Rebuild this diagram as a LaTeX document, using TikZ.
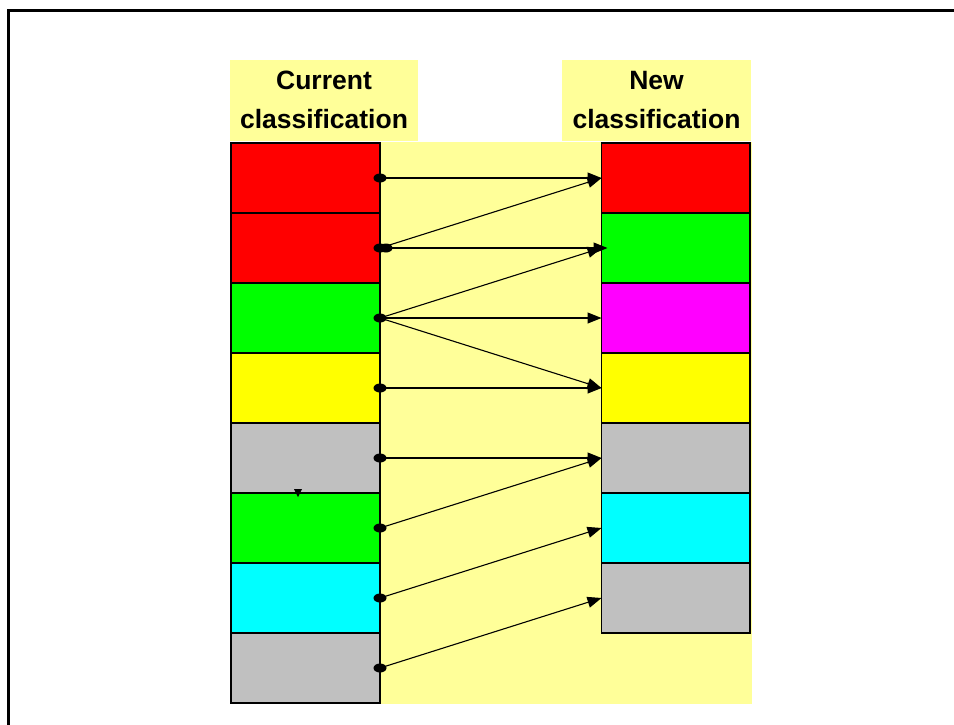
\documentclass[tikz,border=0pt]{standalone}
\usepackage{fontspec}
\setmainfont{Liberation Sans}
\usetikzlibrary{arrows.meta}
\definecolor{lyellow}{HTML}{FFFF99}
\definecolor{cgray}{HTML}{C0C0C0}
\definecolor{cred}{HTML}{FF0000}
\definecolor{cgreen}{HTML}{00FF00}
\definecolor{cmag}{HTML}{FF00FF}
\definecolor{cyel}{HTML}{FFFF00}
\definecolor{ccyan}{HTML}{00FFFF}
\tikzset{
  cbox/.style={draw=black, line width=1.2pt, minimum width=149pt, minimum height=70pt,
    inner sep=0pt, outer sep=0pt, anchor=north west},
  rbox/.style={cbox, minimum width=148.5pt},
  hdr/.style={fill=lyellow, minimum width=188pt, minimum height=81pt, inner sep=0pt,
    align=center, font=\fontsize{26.5}{39}\selectfont\bfseries},
  arr/.style={line width=1.1pt, -{Triangle[length=14pt,width=11pt]}},
  dotmark/.style={fill=black}
}
\begin{document}
\begin{tikzpicture}[x=1pt,y=-1pt]
\useasboundingbox (0,0) rectangle (954,724);
\clip (0,0) rectangle (954,724);
% outer frame (only top and left visible)
\draw[line width=3pt] (8.5,760) -- (8.5,10.5) -- (990,10.5);
% yellow background
\fill[lyellow] (230,142) rectangle (752,704);
% headers
\node[hdr] (hc) at (324,100) {Current\\classification};
\node[hdr, minimum width=189pt] (hn) at (656.5,100) {New\\classification};
% left column
\node[cbox, fill=cred]   (l1) at (231,143) {};
\node[cbox, fill=cred]   (l2) at (231,213) {};
\node[cbox, fill=cgreen] (l3) at (231,283) {};
\node[cbox, fill=cyel]   (l4) at (231,353) {};
\node[cbox, fill=cgray]  (l5) at (231,423) {};
\node[cbox, fill=cgreen] (l6) at (231,493) {};
\node[cbox, fill=ccyan]  (l7) at (231,563) {};
\node[cbox, fill=cgray]  (l8) at (231,633) {};
% right column
\node[rbox, fill=cred]   (r1) at (601.5,143) {};
\node[rbox, fill=cgreen] (r2) at (601.5,213) {};
\node[rbox, fill=cmag]   (r3) at (601.5,283) {};
\node[rbox, fill=cyel]   (r4) at (601.5,353) {};
\node[rbox, fill=cgray]  (r5) at (601.5,423) {};
\node[rbox, fill=ccyan]  (r6) at (601.5,493) {};
\node[rbox, fill=cgray]  (r7) at (601.5,563) {};
% small marker
\fill (294,489) -- (302,489) -- (298,497) -- cycle;
% arrows
\draw[arr] (l1.east) -- (r1.west);
\draw[arr] (l2.east) -- (r1.west);
\draw[arr] (l2.east) -- ([xshift=6pt]r2.west);
\draw[arr] (l3.east) -- (r2.west);
\draw[arr] (l3.east) -- (r3.west);
\draw[arr] (l3.east) -- (r4.west);
\draw[arr] (l4.east) -- (r4.west);
\draw[arr] (l5.east) -- (r5.west);
\draw[arr] (l6.east) -- (r5.west);
\draw[arr] (l7.east) -- (r6.west);
\draw[arr] (l8.east) -- (r7.west);
% dots
\foreach \n in {l1,l2,l3,l4,l5,l6,l7,l8}
  \fill[dotmark] (\n.east) ellipse (6.5pt and 4.5pt);
\fill[dotmark] ([xshift=6pt]l2.east) ellipse (6.5pt and 4.5pt);
\end{tikzpicture}
\end{document}
